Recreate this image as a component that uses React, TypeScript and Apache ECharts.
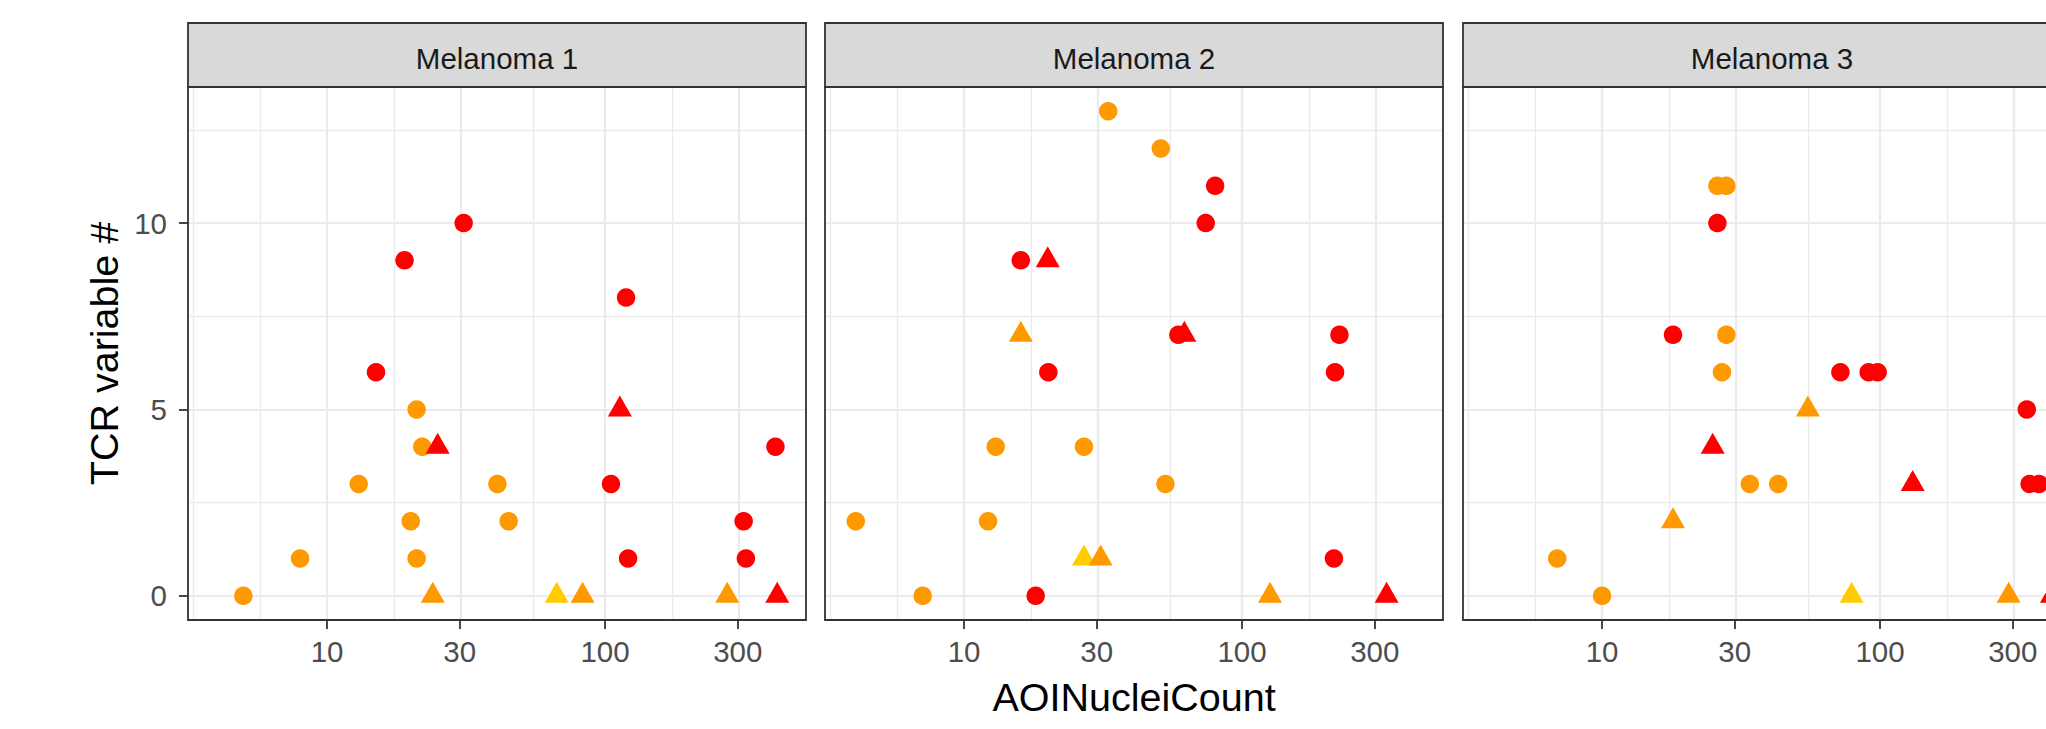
import React, { useEffect, useRef } from "react";
import * as echarts from "echarts";

// ---------- data ----------
const panelNames = ["Melanoma 1", "Melanoma 2", "Melanoma 3"];
const xAxisTitle = "AOINucleiCount";
const yAxisTitle = "TCR variable #";

const xTickValues = [10, 30, 100, 300];
const xMinorGridValues = [3.334, 5.774, 17.32, 54.77, 173.2, 520];
const yTickValues = [0, 5, 10];
const yMinorGridValues = [2.5, 7.5, 12.5];
const xMinValue = 3.162;
const xMaxValue = 528;
const yMinValue = -0.65;
const yMaxValue = 13.65;

// Melanoma 1
const m1RedCircle: [number, number][] = [[15, 6], [19, 9], [31, 10], [105, 3], [119, 8], [121, 1], [315, 2], [321, 1], [410, 4]];
const m1OrangeCircle: [number, number][] = [[5, 0], [8, 1], [13, 3], [21, 5], [22, 4], [20, 2], [21, 1], [41, 3], [45, 2]];
const m1RedTriangle: [number, number][] = [[25, 4], [113, 5], [416, 0]];
const m1YellowTriangle: [number, number][] = [[67, 0]];
const m1OrangeTriangle: [number, number][] = [[24, 0], [83, 0], [275, 0]];

// Melanoma 2
const m2RedCircle: [number, number][] = [[16, 9], [18.1, 0], [20.1, 6], [59, 7], [74, 10], [80, 11], [214, 1], [216, 6], [224, 7]];
const m2OrangeCircle: [number, number][] = [[4.08, 2], [7.1, 0], [12.2, 2], [13, 4], [27, 4], [33, 13], [51, 12], [53, 3]];
const m2RedTriangle: [number, number][] = [[20, 9], [62, 7], [331, 0]];
const m2YellowTriangle: [number, number][] = [[27, 1]];
const m2OrangeTriangle: [number, number][] = [[16, 7], [31, 1], [126, 0]];

// Melanoma 3
const m3RedCircle: [number, number][] = [[18, 7], [26, 10], [72, 6], [91, 6], [98, 6], [337, 5], [345, 3], [373, 3]];
const m3OrangeCircle: [number, number][] = [[6.9, 1], [10, 0], [26, 11], [28, 11], [27, 6], [28, 7], [34, 3], [43, 3]];
const m3RedTriangle: [number, number][] = [[25, 4], [131, 3], [415, 0]];
const m3YellowTriangle: [number, number][] = [[79, 0]];
const m3OrangeTriangle: [number, number][] = [[18, 2], [55, 5], [290, 0]];

const panelData = [
  { redCircle: m1RedCircle, orangeCircle: m1OrangeCircle, redTriangle: m1RedTriangle, yellowTriangle: m1YellowTriangle, orangeTriangle: m1OrangeTriangle },
  { redCircle: m2RedCircle, orangeCircle: m2OrangeCircle, redTriangle: m2RedTriangle, yellowTriangle: m2YellowTriangle, orangeTriangle: m2OrangeTriangle },
  { redCircle: m3RedCircle, orangeCircle: m3OrangeCircle, redTriangle: m3RedTriangle, yellowTriangle: m3YellowTriangle, orangeTriangle: m3OrangeTriangle },
];

// ---------- styles / layout ----------
const RED = "#FF0000";
const ORANGE = "#FF9900";
const YELLOW = "#FFCC00";
const FONT = "'Liberation Sans', Arial, sans-serif";
const PANEL_LEFT = [188, 825, 1463];
const PANEL_W = 618;
const PLOT_TOP = 87;
const PLOT_H = 533;
const STRIP_TOP = 23;
const STRIP_H = PLOT_TOP - STRIP_TOP;
const GRID_COLOR = "#EBEBEB";
const DARK = "#333333";
const CIRCLE_SIZE = 18.5;
const TRI_W = 24;
const TRI_H = 21;
const VIEW_W = 2046;
const VIEW_H = 729;
const CANVAS_W = 2140; // the reference is cropped through the third panel

// log10 scale of x (ggplot scale_x_log10)
const lg = (v: number) => Math.log10(v);
const toLog = (d: [number, number][]) => d.map(([x, y]) => [lg(x), y]);

function buildOption() {
  const grid = PANEL_LEFT.map((left) => ({
    left,
    top: PLOT_TOP,
    width: PANEL_W,
    height: PLOT_H,
    containLabel: false,
    show: false,
  }));

  const xAxis = PANEL_LEFT.map((_, i) => ({
    type: "value",
    gridIndex: i,
    min: lg(xMinValue),
    max: lg(xMaxValue),
    axisLine: { show: false, onZero: false },
    axisTick: {
      show: true,
      length: 9,
      customValues: xTickValues.map(lg),
      lineStyle: { color: DARK, width: 1.8 },
    },
    axisLabel: {
      show: true,
      customValues: xTickValues.map(lg),
      margin: 16,
      color: "#4D4D4D",
      fontSize: 29.5,
      fontFamily: FONT,
      formatter: (v: number) => String(Math.round(Math.pow(10, v))),
    },
    splitLine: { show: false },
    minorSplitLine: { show: false },
  }));

  const yAxis = PANEL_LEFT.map((_, i) => ({
    type: "value",
    gridIndex: i,
    min: yMinValue,
    max: yMaxValue,
    axisLine: { show: false, onZero: false },
    axisTick: {
      show: i === 0,
      length: 9,
      customValues: yTickValues,
      lineStyle: { color: DARK, width: 1.8 },
    },
    axisLabel: {
      show: i === 0,
      customValues: yTickValues,
      margin: 21,
      color: "#4D4D4D",
      fontSize: 29.5,
      fontFamily: FONT,
    },
    splitLine: { show: false },
  }));

  const series: any[] = [];
  panelData.forEach((p, i) => {
    // gridlines through the axes' own scales
    series.push({
      type: "line",
      xAxisIndex: i,
      yAxisIndex: i,
      data: [],
      z: 1,
      silent: true,
      markLine: {
        z: 1,
        silent: true,
        symbol: "none",
        label: { show: false },
        emphasis: { disabled: true },
        lineStyle: { color: GRID_COLOR, type: "solid" },
        data: [
          ...xMinorGridValues.map((v) => ({ xAxis: lg(v), lineStyle: { width: 1.4, color: GRID_COLOR, type: "solid" } })),
          ...yMinorGridValues.map((v) => ({ yAxis: v, lineStyle: { width: 1.4, color: GRID_COLOR, type: "solid" } })),
          ...xTickValues.map((v) => ({ xAxis: lg(v), lineStyle: { width: 2.2, color: GRID_COLOR, type: "solid" } })),
          ...yTickValues.map((v) => ({ yAxis: v, lineStyle: { width: 2.2, color: GRID_COLOR, type: "solid" } })),
        ],
      },
    });
    const circle = (data: [number, number][], color: string) => ({
      type: "scatter",
      xAxisIndex: i,
      yAxisIndex: i,
      data: toLog(data),
      z: 3,
      symbol: "circle",
      symbolSize: CIRCLE_SIZE,
      itemStyle: { color, opacity: 1 },
    });
    const tri = (data: [number, number][], color: string) => ({
      type: "scatter",
      xAxisIndex: i,
      yAxisIndex: i,
      data: toLog(data),
      z: 3,
      symbol: "triangle",
      symbolSize: [TRI_W, TRI_H],
      symbolOffset: [0, -TRI_H / 6],
      itemStyle: { color, opacity: 1 },
    });
    series.push(circle(p.redCircle, RED));
    series.push(circle(p.orangeCircle, ORANGE));
    series.push(tri(p.redTriangle, RED));
    series.push(tri(p.yellowTriangle, YELLOW));
    series.push(tri(p.orangeTriangle, ORANGE));
  });

  const graphic: any[] = [];
  PANEL_LEFT.forEach((left, i) => {
    graphic.push({
      type: "rect",
      shape: { x: left, y: STRIP_TOP, width: PANEL_W, height: STRIP_H },
      style: { fill: "#D9D9D9", stroke: DARK, lineWidth: 1.8 },
      z: 100,
    });
    graphic.push({
      type: "text",
      x: left + PANEL_W / 2,
      y: 58.5,
      style: {
        text: panelNames[i],
        fill: "#1A1A1A",
        font: `29.5px ${FONT}`,
        align: "center",
        verticalAlign: "middle",
      },
      z: 101,
    });
    graphic.push({
      type: "rect",
      shape: { x: left, y: PLOT_TOP, width: PANEL_W, height: PLOT_H },
      style: { fill: "none", stroke: DARK, lineWidth: 1.8 },
      z: 100,
    });
  });
  graphic.push({
    type: "text",
    x: PANEL_LEFT[1] + PANEL_W / 2,
    y: 697,
    style: {
      text: xAxisTitle,
      fill: "#000000",
      font: `39.5px ${FONT}`,
      align: "center",
      verticalAlign: "middle",
    },
    z: 101,
  });
  graphic.push({
    type: "text",
    x: 104,
    y: PLOT_TOP + PLOT_H / 2,
    rotation: Math.PI / 2,
    style: {
      text: yAxisTitle,
      fill: "#000000",
      font: `39.5px ${FONT}`,
      align: "center",
      verticalAlign: "middle",
    },
    z: 101,
  });

  return {
    animation: false,
    backgroundColor: "#FFFFFF",
    grid,
    xAxis,
    yAxis,
    series,
    graphic,
  };
}

export default function App() {
  const ref = useRef<HTMLDivElement>(null);
  useEffect(() => {
    if (!ref.current) return;
    const chart = echarts.init(ref.current, undefined, { renderer: "svg" });
    chart.setOption(buildOption() as any);
    return () => chart.dispose();
  }, []);
  return (
    <div
      style={{
        position: "absolute",
        left: 0,
        top: 0,
        width: VIEW_W,
        height: VIEW_H,
        overflow: "hidden",
        background: "#fff",
      }}
    >
      <div ref={ref} style={{ width: CANVAS_W, height: VIEW_H }} />
    </div>
  );
}
